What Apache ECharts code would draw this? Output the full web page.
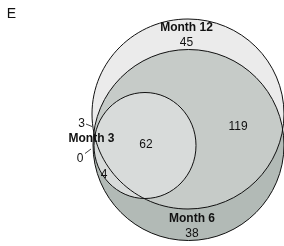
<!DOCTYPE html>
<html>
<head>
<meta charset="utf-8">
<script src="https://cdn.jsdelivr.net/npm/echarts@6/dist/echarts.min.js"></script>
<style>
  html, body { margin: 0; padding: 0; background: #fff; }
  #chart { width: 284px; height: 246px; }
</style>
</head>
<body>
<div id="chart"></div>
<script>
// 集合名称
const setNames = ['Month 12', 'Month 6', 'Month 3']
// 各区域计数：12 only, 6 only, 3 only, 12∩6, 12∩3, 6∩3, 12∩6∩3
const regionKeys = ['m12', 'm6', 'm3', 'm12m6', 'm12m3', 'm6m3', 'all']
const regionCounts = [45, 38, 0, 119, 3, 4, 62]
const panelLabel = 'E'

// 布局（坐标系 0..284 x 0..246，y 轴向下）
const layout = {
  ellipses: [
    [188, 114, 96, 95],    // Month 12
    [188.5, 145, 95.5, 95.5], // Month 6
    [145, 145.5, 51, 53]   // Month 3
  ],
  setLabelPos: [[186.5, 28], [192, 218.5], [91.5, 138.5]],
  regionLabelPos: [[186.5, 43], [192, 234], [80, 158.5], [238, 126.5], [81.5, 123.5], [104, 174.5], [146, 144.5]],
  leaders: [
    [[86, 124], [92, 126.5]],
    [[85, 153.5], [91, 149]]
  ],
  panelPos: [11.5, 14]
}

const fillColors = ['#ebebeb', '#b2bab6', 'rgba(235,235,235,0.35)', '#d8dbda']
const fontFamily = "'Liberation Sans', Arial, Helvetica, sans-serif"

const ellipseShape = (api, e) => {
  const c = api.coord([e[0], e[1]])
  const s = api.size([e[2], e[3]])
  return { cx: c[0], cy: c[1], rx: s[0], ry: s[1] }
}

// 填充顺序：12 底色、6 深色、12 半透明覆盖、3
const fillData = [
  [...layout.ellipses[0], 0],
  [...layout.ellipses[1], 1],
  [...layout.ellipses[0], 2],
  [...layout.ellipses[2], 3]
]

const textData = []
setNames.forEach((n, i) => textData.push([layout.setLabelPos[i][0], layout.setLabelPos[i][1], n, 'bold', 12]))
regionCounts.forEach((v, i) => textData.push([layout.regionLabelPos[i][0], layout.regionLabelPos[i][1], String(v), 'normal', 12]))
textData.push([layout.panelPos[0], layout.panelPos[1], panelLabel, 'normal', 14])

const chart = echarts.init(document.getElementById('chart'), null, { renderer: 'canvas' })

const option = {
  animation: false,
  grid: { left: 0, right: 0, top: 0, bottom: 0 },
  xAxis: { type: 'value', min: 0, max: 284, show: false },
  yAxis: { type: 'value', min: 0, max: 246, inverse: true, show: false },
  series: [
    {
      type: 'custom',
      z: 1,
      silent: true,
      data: fillData,
      renderItem: (params, api) => {
        const d = fillData[params.dataIndex]
        return {
          type: 'ellipse',
          shape: ellipseShape(api, d),
          style: { fill: fillColors[d[4]], stroke: null }
        }
      }
    },
    {
      type: 'custom',
      z: 2,
      silent: true,
      data: layout.ellipses,
      renderItem: (params, api) => ({
        type: 'ellipse',
        shape: ellipseShape(api, layout.ellipses[params.dataIndex]),
        style: { fill: null, stroke: '#111', lineWidth: 1 }
      })
    },
    {
      type: 'custom',
      z: 3,
      silent: true,
      data: layout.leaders,
      renderItem: (params, api) => {
        const l = layout.leaders[params.dataIndex]
        const a = api.coord(l[0])
        const b = api.coord(l[1])
        return {
          type: 'line',
          shape: { x1: a[0], y1: a[1], x2: b[0], y2: b[1] },
          style: { stroke: '#111', lineWidth: 0.8 }
        }
      }
    },
    {
      type: 'custom',
      z: 4,
      silent: true,
      data: textData,
      renderItem: (params, api) => {
        const t = textData[params.dataIndex]
        const p = api.coord([t[0], t[1]])
        return {
          type: 'text',
          x: p[0],
          y: p[1],
          style: {
            text: t[2],
            fill: '#111',
            font: `${t[3]} ${t[4]}px ${fontFamily}`,
            align: 'center',
            verticalAlign: 'middle'
          }
        }
      }
    }
  ]
}

chart.setOption(option)
</script>
</body>
</html>
